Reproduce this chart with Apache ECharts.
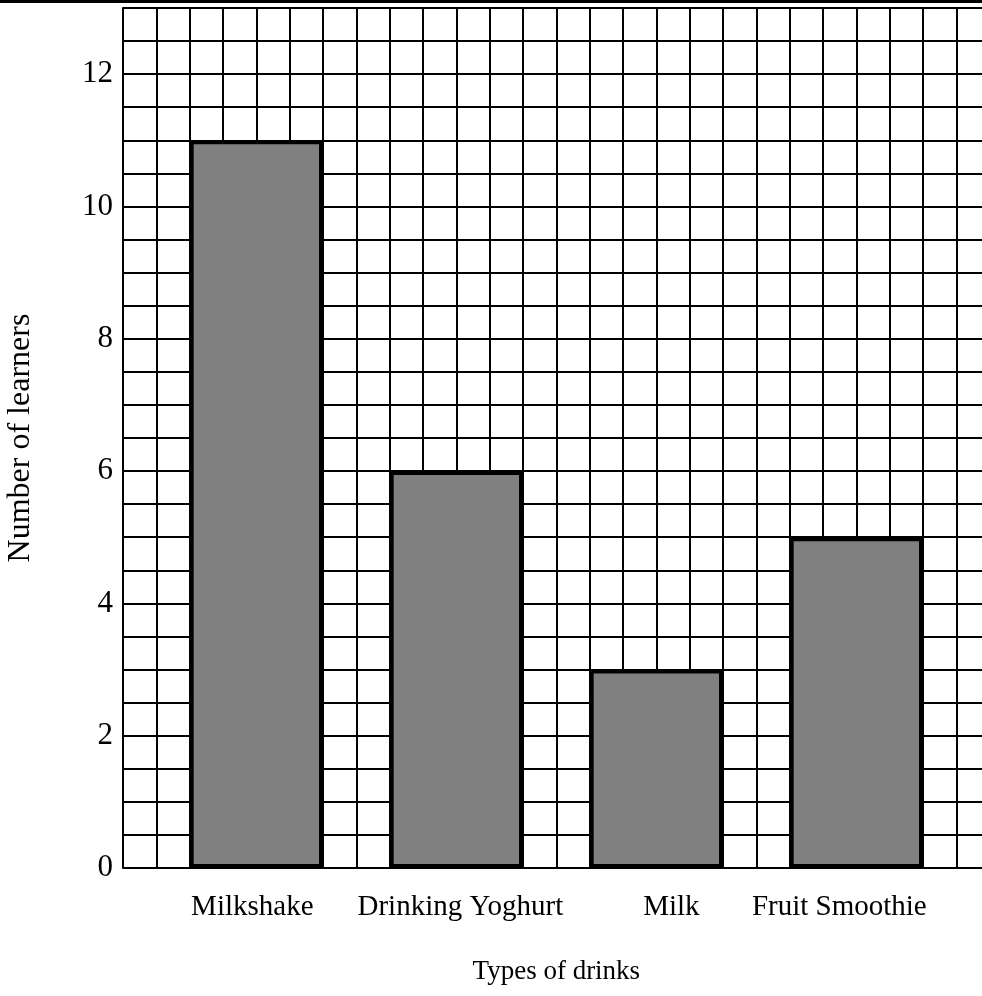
<!DOCTYPE html>
<html>
<head>
<meta charset="utf-8">
<script src="https://cdn.jsdelivr.net/npm/echarts@6/dist/echarts.min.js"></script>
<style>
  html, body { margin: 0; padding: 0; background: #fff; }
  #chart { width: 982px; height: 996px; }
</style>
</head>
<body>
<div id="chart"></div>
<script>
// drinks chosen by learners
const drinks = ['Milkshake', 'Drinking Yoghurt', 'Milk', 'Fruit Smoothie'];
const learners = [11, 6, 3, 5];
// small nudges so the labels sit like the printed ones
const labelShift = [-4, 4, 15, -17];

const yMax = 13;
const font = 'Liberation Serif, Times New Roman, serif';
const gridLine = { color: '#000', width: 2 };

const cell = 800 / 24; // 4 categories, 6 cells each
const chart = echarts.init(document.getElementById('chart'));

const option = {
  animation: false,
  textStyle: { fontFamily: font, color: '#000' },
  graphic: [
    {
      type: 'line',
      shape: { x1: 0, y1: 1.5, x2: 982, y2: 1.5 },
      style: { stroke: '#000', lineWidth: 3 }
    }
  ],
  grid: [
    // background squared paper
    { left: 123, top: 8, width: cell * 26, height: 860, outerBoundsMode: 'none' },
    // bars
    { left: 123 + cell, top: 8, width: 800, height: 860, outerBoundsMode: 'none' }
  ],
  xAxis: [
    {
      gridIndex: 0, type: 'value', min: 0, max: 26, interval: 1,
      axisLine: { show: false }, axisTick: { show: false }, axisLabel: { show: false },
      splitLine: { show: true, lineStyle: gridLine }
    },
    {
      gridIndex: 1, type: 'category', data: drinks.map((d, i) => ({
        value: d,
        textStyle: {
          padding: labelShift[i] > 0 ? [0, 0, 0, labelShift[i] * 2] : [0, -labelShift[i] * 2, 0, 0]
        }
      })),
      axisLine: { show: false }, axisTick: { show: false },
      axisLabel: { interval: 0, fontSize: 29, fontFamily: font, color: '#000', margin: 25 },
      name: 'Types of drinks', nameLocation: 'middle', nameGap: 90,
      nameTextStyle: { fontSize: 27, fontFamily: font, color: '#000' }
    }
  ],
  yAxis: [
    {
      gridIndex: 0, type: 'value', min: 0, max: yMax, interval: 0.5,
      axisLine: { show: true, lineStyle: gridLine }, axisTick: { show: false },
      axisLabel: {
        fontSize: 31, fontFamily: font, color: '#000', margin: 10,
        formatter: v => (v % 2 === 0 ? String(v) : '')
      },
      splitLine: { show: true, lineStyle: gridLine },
      name: 'Number of learners', nameLocation: 'middle', nameGap: 86, nameRotate: 90,
      nameTextStyle: { fontSize: 32, fontFamily: font, color: '#000' }
    },
    {
      gridIndex: 1, type: 'value', min: 0, max: yMax, show: false
    }
  ],
  series: [
    {
      type: 'bar', xAxisIndex: 1, yAxisIndex: 1,
      data: learners,
      barWidth: '66.67%',
      itemStyle: { color: '#808080', borderColor: '#000', borderWidth: 4 }
    }
  ]
};

chart.setOption(option);
</script>
</body>
</html>
